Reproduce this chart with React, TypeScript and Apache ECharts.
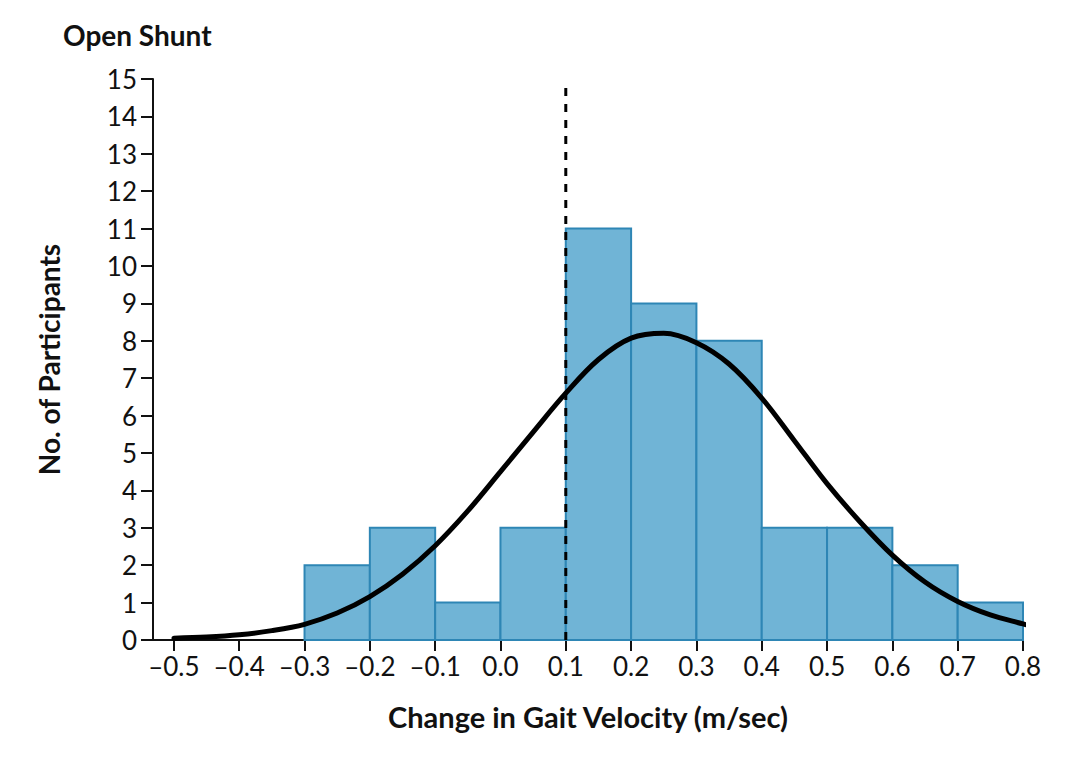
import React, { useEffect, useRef } from "react";
import * as echarts from "echarts";

const binStarts = [-0.3, -0.2, -0.1, 0.0, 0.1, 0.2, 0.3, 0.4, 0.5, 0.6, 0.7];
const binWidth = 0.1;
const counts = [2, 3, 1, 3, 11, 9, 8, 3, 3, 2, 1];

const curveX = [-0.5, -0.45, -0.4, -0.35, -0.3, -0.25, -0.2, -0.15, -0.1, -0.05, 0.0, 0.05, 0.1, 0.15, 0.2, 0.25, 0.3, 0.35, 0.4, 0.45, 0.5, 0.55, 0.6, 0.65, 0.7, 0.75, 0.8, 0.81];
const curveY = [0.05, 0.08, 0.14, 0.25, 0.42, 0.72, 1.16, 1.76, 2.52, 3.45, 4.5, 5.56, 6.6, 7.5, 8.07, 8.2, 7.95, 7.38, 6.47, 5.33, 4.18, 3.17, 2.27, 1.55, 1.03, 0.67, 0.43, 0.38];

const xTickValues = [-0.5, -0.4, -0.3, -0.2, -0.1, 0.0, 0.1, 0.2, 0.3, 0.4, 0.5, 0.6, 0.7, 0.8];
const dashX = 0.1;
const dashTop = 14.85;

const FONT = "Lato";

export default function App() {
  const ref = useRef<HTMLDivElement>(null);
  useEffect(() => {
    document.body.style.margin = "0";
    const chart = echarts.init(ref.current!, null, { renderer: "svg" });
    const barData = binStarts.map((s, i) => [s, s + binWidth, counts[i]]);
    const curveData = curveX.map((x, i) => [x, curveY[i]]);
    chart.setOption({
      animation: false,
      title: {
        text: "Open Shunt",
        left: 58,
        top: 16,
        textStyle: { fontFamily: FONT, fontSize: 28, fontWeight: "bold", color: "#111" },
      },
      grid: { left: 153, right: 57, top: 79, bottom: 127 },
      xAxis: {
        type: "value",
        min: -0.532,
        max: 0.8,
        name: "Change in Gait Velocity (m/sec)",
        nameLocation: "middle",
        nameGap: 62,
        nameTextStyle: { fontFamily: FONT, fontSize: 29, fontWeight: "bold", color: "#111" },
        axisLine: { show: true, onZero: false, lineStyle: { color: "#111", width: 2 } },
        axisTick: { show: true, length: 11, customValues: xTickValues, lineStyle: { color: "#111", width: 2 } },
        axisLabel: {
          customValues: xTickValues,
          margin: 13,
          fontFamily: FONT,
          fontSize: 26,
          color: "#111",
          formatter: (v: number) => {
            const s = Math.abs(v).toFixed(1);
            return v < -1e-9 ? "\u2013" + s : s;
          },
        },
        splitLine: { show: false },
      },
      yAxis: {
        type: "value",
        min: 0,
        max: 15,
        interval: 1,
        name: "No. of Participants",
        nameLocation: "middle",
        nameGap: 90,
        nameTextStyle: { fontFamily: FONT, fontSize: 28, fontWeight: "bold", color: "#111" },
        axisLine: { show: true, onZero: false, lineStyle: { color: "#111", width: 2 } },
        axisTick: { show: true, length: 12, lineStyle: { color: "#111", width: 2 } },
        axisLabel: { margin: 16, fontFamily: FONT, fontSize: 26, color: "#111" },
        splitLine: { show: false },
      },
      series: [
        {
          type: "custom",
          data: barData,
          encode: { x: [0, 1], y: 2 },
          z: 2,
          renderItem: (params: any, api: any) => {
            const p0 = api.coord([api.value(0), api.value(2)]);
            const p1 = api.coord([api.value(1), 0]);
            return {
              type: "rect",
              shape: { x: p0[0], y: p0[1], width: p1[0] - p0[0], height: p1[1] - p0[1] },
              style: { fill: "#70b4d6", stroke: "#2e86b5", lineWidth: 2 },
            };
          },
        },
        {
          type: "line",
          data: [[dashX, 0], [dashX, dashTop]],
          showSymbol: false,
          z: 3,
          lineStyle: { color: "#000", width: 3, type: [8, 8] },
        },
        {
          type: "line",
          data: curveData,
          smooth: 0.35,
          showSymbol: false,
          clip: false,
          z: 4,
          lineStyle: { color: "#000", width: 5, cap: "round" },
        },
      ],
    });
    return () => chart.dispose();
  }, []);
  return <div ref={ref} style={{ width: 1080, height: 767 }} />;
}
